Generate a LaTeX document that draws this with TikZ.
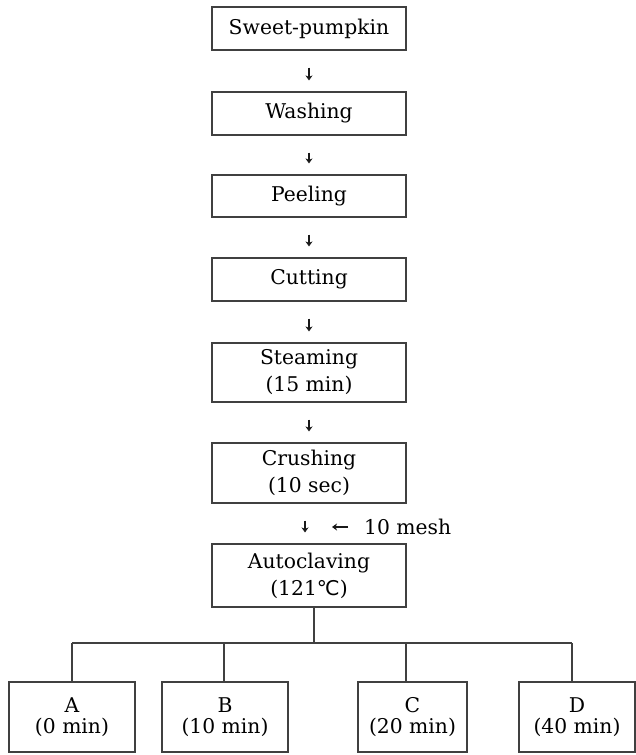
\documentclass[tikz,border=0pt]{standalone}
\usepackage{fontspec}
\setmainfont{DejaVu Serif}
\newfontfamily\symfont{DejaVu Sans}
\usetikzlibrary{arrows.meta,calc}
\begin{document}
\begin{tikzpicture}[x=1pt,y=-1pt,
  box/.style={draw=black!75, line width=1.1pt, minimum width=194pt, inner sep=0pt,
    align=center, font=\fontsize{20.3}{27}\selectfont},
  leaf/.style={draw=black!75, line width=1.1pt, inner sep=0pt, minimum height=70pt,
    align=center, font=\fontsize{20.3}{21}\selectfont},
  flow/.style={draw=black!90, line width=1.3pt, -{Stealth[length=5pt,width=7pt,inset=1.5pt]},
    shorten <=17pt, shorten >=11pt},
  tree/.style={draw=black!75, line width=1.1pt}]
\useasboundingbox (0,0) rectangle (636,755);
\node[box, minimum height=43pt] (sp) at (309,28.5) {Sweet-pumpkin};
\node[box, minimum height=43pt] (wash) at (309,113.5) {Washing};
\node[box, minimum height=42pt] (peel) at (309,196) {Peeling};
\node[box, minimum height=43pt] (cut) at (309,279.5) {Cutting};
\node[box, minimum height=59pt] (steam) at (309,372.5) {Steaming\\(15 min)};
\node[box, minimum height=60pt] (crush) at (309,473) {Crushing\\(10 sec)};
\node[box, minimum height=63pt] (auto) at (309,575.5) {Autoclaving\\(121{\symfont ℃})};
\node[anchor=west, inner sep=0pt, font=\fontsize{20.3}{24}\selectfont] (mesh) at (364,527) {10 mesh};
\draw[flow] (sp) -- (wash);
\draw[flow] (wash) -- (peel);
\draw[flow] (peel) -- (cut);
\draw[flow] (cut) -- (steam);
\draw[flow] (steam) -- (crush);
\draw[flow] ($(crush.south)+(-4,0)$) -- ($(auto.north)+(-4,0)$);
\draw[draw=black!90, line width=1.3pt, -{Stealth[length=5pt,width=7pt,inset=1.5pt]}]
  ([xshift=-16pt]mesh.west) -- ([xshift=-32pt]mesh.west);
\node[leaf, minimum width=126pt] (A) at (72,717) {A\\(0 min)};
\node[leaf, minimum width=126pt] (B) at (225,717) {B\\(10 min)};
\node[leaf, minimum width=109pt] (C) at (412.5,717) {C\\(20 min)};
\node[leaf, minimum width=116pt] (D) at (577,717) {D\\(40 min)};
\coordinate (j) at (314,643);
\coordinate (ja) at (72,643);
\coordinate (jb) at (224,643);
\coordinate (jc) at (406,643);
\coordinate (jd) at (572,643);
\draw[tree] (j |- auto.south) -- (j);
\draw[tree] (ja) -- (jd);
\draw[tree] (ja) -- (ja |- A.north);
\draw[tree] (jb) -- (jb |- B.north);
\draw[tree] (jc) -- (jc |- C.north);
\draw[tree] (jd) -- (jd |- D.north);
\end{tikzpicture}
\end{document}
